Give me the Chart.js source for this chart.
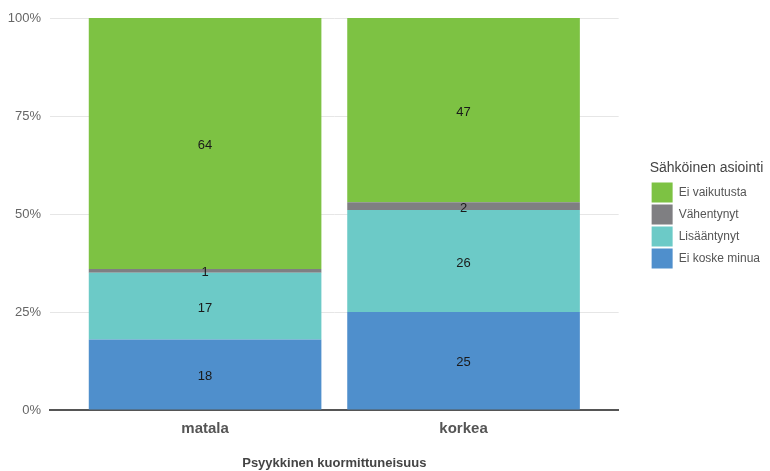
<!DOCTYPE html>
<html>
<head>
<meta charset="utf-8">
<script src="https://cdn.jsdelivr.net/npm/chart.js@4/dist/chart.umd.min.js"></script>
<style>
  html, body { margin: 0; padding: 0; background: #ffffff; }
  #wrap { width: 770px; height: 471px; }
</style>
</head>
<body>
<div id="wrap"><canvas id="chart" width="770" height="471"></canvas></div>
<script>
// Categories on the x axis
const categories = ['matala', 'korkea'];

// Shares (%) per answer, stacked bottom to top
const eiKoskeMinua = [18, 25];
const lisaantynyt = [17, 26];
const vahentynyt = [1, 2];
const eiVaikutusta = [64, 47];

// Y axis ticks (%)
const yTicks = [0, 25, 50, 75, 100];

const FONT = "'Liberation Sans', Arial, sans-serif";

const seriesDefs = [
  { label: 'Ei koske minua', values: eiKoskeMinua, color: '#4f8fcc' },
  { label: 'Lisääntynyt', values: lisaantynyt, color: '#6ccac7' },
  { label: 'Vähentynyt', values: vahentynyt, color: '#7f7f82' },
  { label: 'Ei vaikutusta', values: eiVaikutusta, color: '#7dc243' }
];

const datasets = seriesDefs.map(s => ({
  label: s.label,
  data: s.values.map((v, i) => ({ x: i + 1, y: v })),
  backgroundColor: s.color,
  borderWidth: 0,
  xAxisID: 'x',
  yAxisID: 'y',
  categoryPercentage: 1,
  barPercentage: 0.9
}));

// Writes each segment's value at its middle
const segmentLabels = {
  id: 'segmentLabels',
  afterDatasetsDraw(chart) {
    const ctx = chart.ctx;
    ctx.save();
    ctx.font = '13px ' + FONT;
    ctx.fillStyle = '#1a1a1a';
    ctx.textAlign = 'center';
    ctx.textBaseline = 'middle';
    chart.data.datasets.forEach((ds, i) => {
      const meta = chart.getDatasetMeta(i);
      meta.data.forEach((bar, j) => {
        const v = ds.data[j].y;
        ctx.fillText(String(v), bar.x, (bar.y + bar.base) / 2 + 2);
      });
    });
    ctx.restore();
  }
};

new Chart(document.getElementById('chart'), {
  type: 'bar',
  data: { datasets },
  plugins: [segmentLabels],
  options: {
    responsive: false,
    animation: false,
    devicePixelRatio: 1,
    layout: { padding: { top: 18, right: 0, bottom: 0, left: 0 } },
    scales: {
      x: {
        type: 'linear',
        stacked: true,
        offset: false,
        min: 0.4,
        max: 2.6,
        afterBuildTicks(scale) {
          scale.ticks = categories.map((c, i) => ({ value: i + 1 }));
        },
        afterFit(scale) { scale.height = 61; },
        grid: { display: false, drawTicks: false, offset: false },
        border: { display: true, color: '#555555', width: 2 },
        ticks: {
          padding: 10,
          color: '#555555',
          font: { family: FONT, size: 15, weight: 'bold' },
          callback: v => categories[v - 1]
        },
        title: {
          display: true,
          text: 'Psyykkinen kuormittuneisuus',
          color: '#444444',
          font: { family: FONT, size: 13, weight: 'bold' },
          padding: { top: 0, bottom: 0 }
        }
      },
      y: {
        stacked: true,
        min: 0,
        max: 100,
        afterBuildTicks(scale) {
          scale.ticks = yTicks.map(v => ({ value: v }));
        },
        afterFit(scale) { scale.width = 50; },
        grid: { color: '#e6e6e6', lineWidth: 1, drawTicks: false },
        border: { display: false },
        ticks: {
          padding: 9,
          color: '#666666',
          font: { family: FONT, size: 13 },
          callback: v => v + '%'
        }
      },
      yGap: {
        type: 'linear',
        position: 'right',
        display: true,
        grid: { display: false, drawTicks: false },
        border: { display: false },
        ticks: { display: false },
        afterFit(scale) { scale.width = 31; }
      }
    },
    plugins: {
      tooltip: { enabled: false },
      legend: {
        position: 'right',
        align: 'center',
        fullSize: false,
        reverse: true,
        title: {
          display: true,
          text: 'Sähköinen asiointi',
          position: 'start',
          color: '#444444',
          font: { family: FONT, size: 14 },
          padding: { top: 4, bottom: 2 }
        },
        labels: {
          boxWidth: 21,
          boxHeight: 20,
          padding: 2,
          color: '#555555',
          font: { family: FONT, size: 12 }
        }
      }
    }
  }
});
</script>
</body>
</html>
